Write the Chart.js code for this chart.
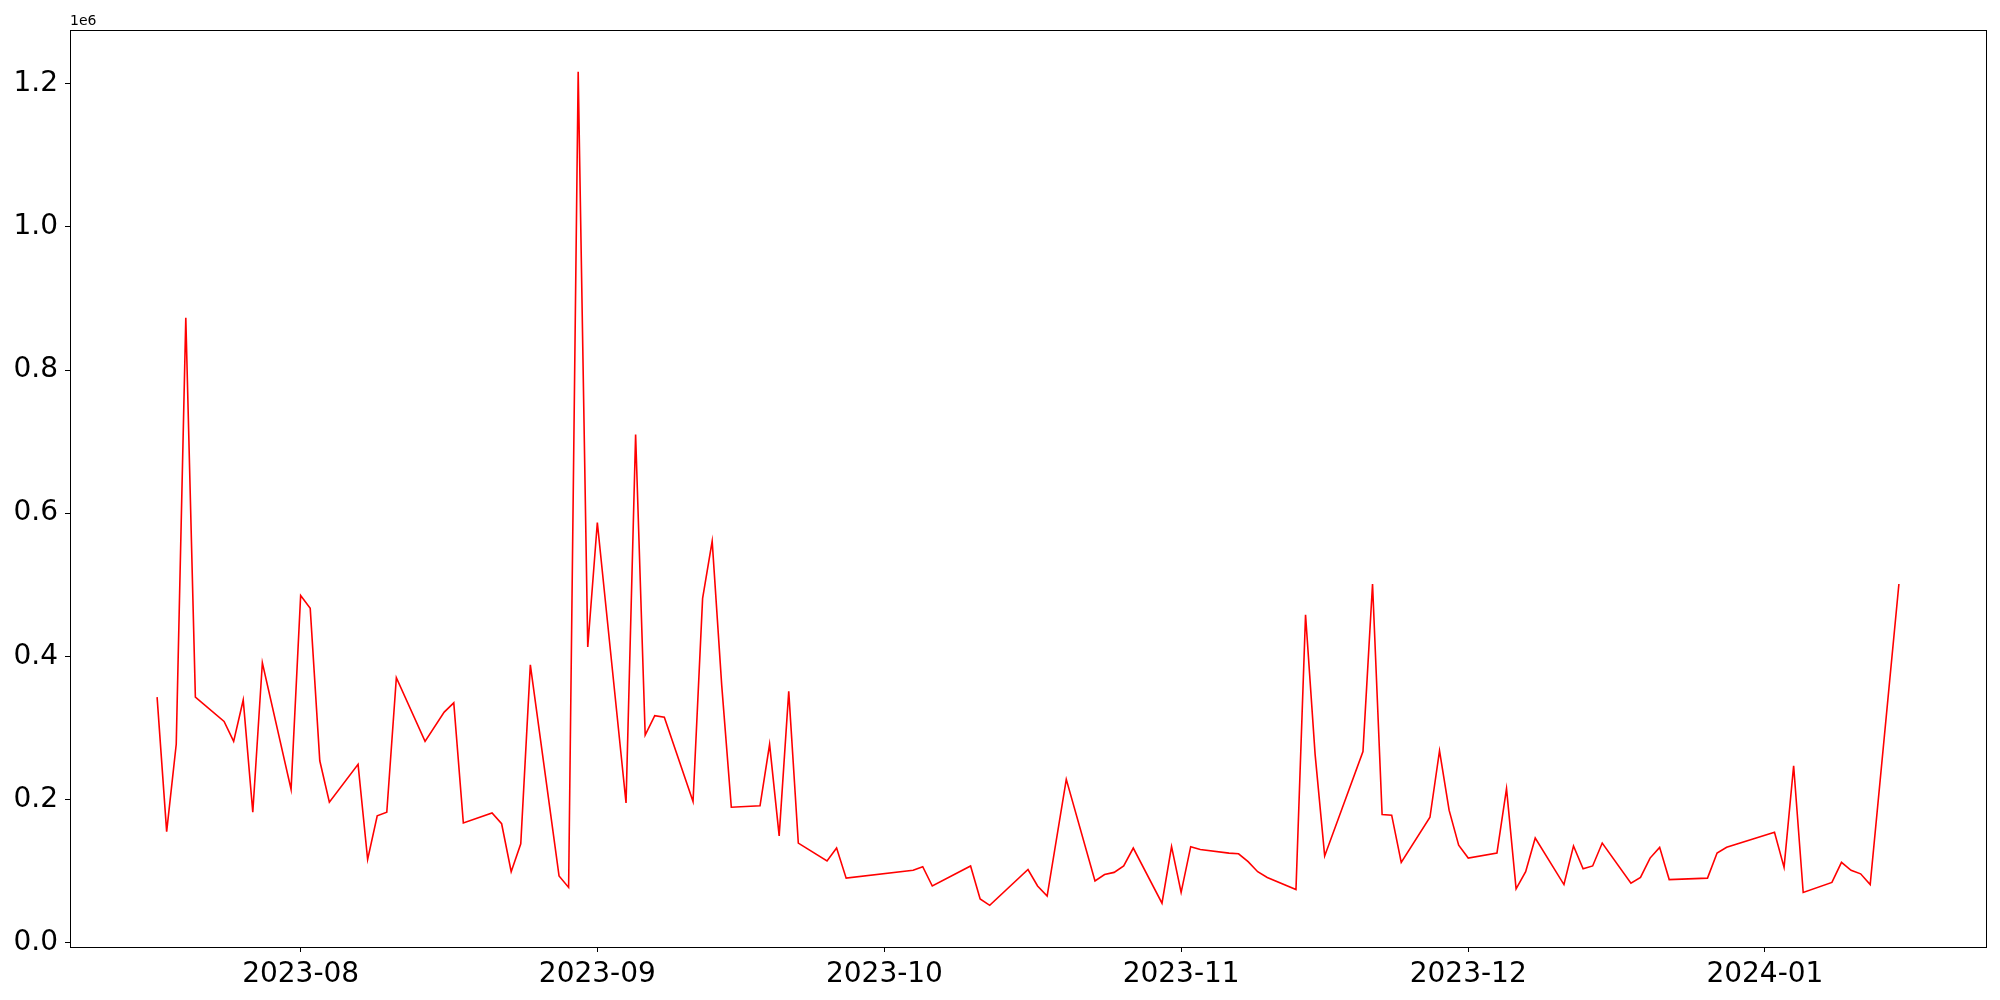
<!DOCTYPE html>
<html>
<head>
<meta charset="utf-8">
<script src="https://cdn.jsdelivr.net/npm/chart.js@4"></script>
<style>
  body { margin: 0; background: #fff; }
  #wrap { width: 2000px; height: 1000px; }
</style>
</head>
<body>
<div id="wrap"><canvas id="myChart"></canvas></div>
<script>
const dates = [
    '2023-07-17', '2023-07-18', '2023-07-19', '2023-07-20', '2023-07-21',
    '2023-07-24', '2023-07-25', '2023-07-26', '2023-07-27', '2023-07-28',
    '2023-07-31', '2023-08-01', '2023-08-02', '2023-08-03', '2023-08-04',
    '2023-08-07', '2023-08-08', '2023-08-09', '2023-08-10', '2023-08-11',
    '2023-08-14', '2023-08-16', '2023-08-17', '2023-08-18',
    '2023-08-21', '2023-08-22', '2023-08-23', '2023-08-24', '2023-08-25',
    '2023-08-28', '2023-08-29', '2023-08-30', '2023-08-31', '2023-09-01',
    '2023-09-04', '2023-09-05', '2023-09-06', '2023-09-07', '2023-09-08',
    '2023-09-11', '2023-09-12', '2023-09-13', '2023-09-14', '2023-09-15',
    '2023-09-18', '2023-09-19', '2023-09-20', '2023-09-21', '2023-09-22',
    '2023-09-25', '2023-09-26', '2023-09-27',
    '2023-10-04', '2023-10-05', '2023-10-06',
    '2023-10-10', '2023-10-11', '2023-10-12',
    '2023-10-16', '2023-10-17', '2023-10-18', '2023-10-20',
    '2023-10-23', '2023-10-24', '2023-10-25', '2023-10-26', '2023-10-27',
    '2023-10-30', '2023-10-31', '2023-11-01', '2023-11-02', '2023-11-03',
    '2023-11-06', '2023-11-07', '2023-11-08', '2023-11-09', '2023-11-10',
    '2023-11-13', '2023-11-14', '2023-11-15', '2023-11-16',
    '2023-11-20', '2023-11-21', '2023-11-22', '2023-11-23', '2023-11-24',
    '2023-11-27', '2023-11-28', '2023-11-29', '2023-11-30', '2023-12-01',
    '2023-12-04', '2023-12-05', '2023-12-06', '2023-12-07', '2023-12-08',
    '2023-12-11', '2023-12-12', '2023-12-13', '2023-12-14', '2023-12-15',
    '2023-12-18', '2023-12-19', '2023-12-20', '2023-12-21', '2023-12-22',
    '2023-12-26', '2023-12-27', '2023-12-28',
    '2024-01-02', '2024-01-03', '2024-01-04', '2024-01-05',
    '2024-01-08', '2024-01-09', '2024-01-10', '2024-01-11', '2024-01-12',
    '2024-01-15'
];

const values = [
    343000, 155000, 277000, 873000, 343000,
    309000, 281000, 339000, 182000, 391000,
    214000, 485000, 467000, 254000, 196000,
    249000, 116000, 177000, 182000, 370000,
    281000, 322000, 335000, 167000,
    181000, 166000, 99000, 138000, 388000,
    93000, 77000, 1217000, 413000, 587000,
    195000, 710000, 290000, 317000, 315000,
    197000, 481000, 561000, 359000, 189000,
    191000, 277000, 149000, 351000, 139000,
    114000, 132000, 90000,
    101000, 106000, 79000,
    107000, 61000, 52000,
    102000, 79000, 65000, 228000,
    86000, 95000, 98000, 107000, 132000,
    55000, 134000, 70000, 134000, 130000,
    125000, 124000, 113000, 99000, 91000,
    74000, 458000, 263000, 121000,
    267000, 501000, 179000, 178000, 112000,
    175000, 268000, 185000, 136000, 118000,
    125000, 215000, 75000, 99000, 146000,
    81000, 135000, 103000, 107000, 139000,
    83000, 91000, 118000, 133000, 88000,
    90000, 125000, 133000,
    154000, 105000, 247000, 70000,
    84000, 112000, 101000, 96000, 81000,
    501000
];

const monthTicks = ['2023-08', '2023-09', '2023-10', '2023-11', '2023-12', '2024-01'];
const yTicks = [0, 200000, 400000, 600000, 800000, 1000000, 1200000];

function toTime(s) {
    const p = s.split('-').map(Number);
    return Date.UTC(p[0], p[1] - 1, p[2] || 1);
}

const points = dates.map((d, i) => ({ x: toTime(d), y: values[i] }));

// matplotlib style 5% margins
const xMin0 = toTime(dates[0]), xMax0 = toTime(dates[dates.length - 1]);
const xPad = (xMax0 - xMin0) * 0.05;
const yMin0 = Math.min(...values), yMax0 = Math.max(...values);
const yPad = (yMax0 - yMin0) * 0.05;

const FONT = 'DejaVu Sans';

const frame = {
    id: 'frame',
    afterDraw(chart) {
        const a = chart.chartArea;
        const c = chart.ctx;
        c.save();
        c.strokeStyle = '#000';
        c.lineWidth = 1;
        c.strokeRect(Math.round(a.left) + 0.5, Math.round(a.top) + 0.5,
            Math.round(a.right - a.left), Math.round(a.bottom - a.top));
        c.fillStyle = '#000';
        c.font = '14px "' + FONT + '"';
        c.textAlign = 'left';
        c.textBaseline = 'alphabetic';
        c.fillText('1e6', a.left, a.top - 5);
        c.restore();
    }
};

const config = {
    type: 'line',
    data: {
        datasets: [{
            data: points,
            borderColor: '#ff0000',
            borderWidth: 1.6,
            pointRadius: 0,
            tension: 0,
            fill: false
        }]
    },
    options: {
        responsive: true,
        maintainAspectRatio: false,
        animation: false,
        events: [],
        layout: { padding: { left: 0, right: 14, top: 30, bottom: 12 } },
        plugins: { legend: { display: false }, tooltip: { enabled: false } },
        scales: {
            x: {
                type: 'linear',
                min: xMin0 - xPad,
                max: xMax0 + xPad,
                afterBuildTicks: (scale) => {
                    scale.ticks = monthTicks.map(m => ({ value: toTime(m) }));
                },
                afterFit: (scale) => { scale.height = 41; },
                grid: { drawOnChartArea: false, drawTicks: true, tickLength: 5, tickColor: '#000' },
                border: { display: true, color: '#000' },
                ticks: {
                    color: '#000',
                    font: { family: FONT, size: 28 },
                    padding: 6,
                    maxRotation: 0,
                    callback: (v) => {
                        const d = new Date(v);
                        return d.getUTCFullYear() + '-' + String(d.getUTCMonth() + 1).padStart(2, '0');
                    }
                }
            },
            y: {
                min: yMin0 - yPad,
                max: yMax0 + yPad,
                afterBuildTicks: (scale) => {
                    scale.ticks = yTicks.map(v => ({ value: v }));
                },
                afterFit: (scale) => { scale.width = 70; },
                grid: { drawOnChartArea: false, drawTicks: true, tickLength: 5, tickColor: '#000' },
                border: { display: true, color: '#000' },
                ticks: {
                    color: '#000',
                    font: { family: FONT, size: 28 },
                    padding: 7,
                    callback: (v) => (v / 1e6).toFixed(1)
                }
            }
        }
    },
    plugins: [frame]
};

const ctx = document.getElementById('myChart').getContext('2d');
const myChart = new Chart(ctx, config);
</script>
</body>
</html>
